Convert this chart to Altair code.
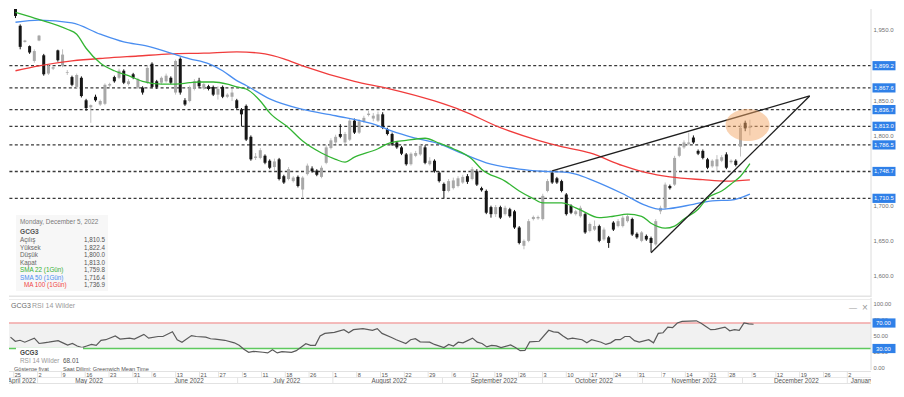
import altair as alt
import pandas as pd

FONT = "Liberation Sans"

# ---------------- data ----------------
opens = [1980, 1956, 1933, 1927, 1906, 1935, 1914, 1888, 1895, 1921,
         1899, 1889, 1883, 1869, 1882, 1850, 1840, 1855, 1844, 1845,
         1871, 1883, 1882, 1892, 1873, 1887, 1868, 1868, 1875, 1902,
         1877, 1875, 1877, 1882, 1861, 1909, 1850, 1849, 1866, 1878,
         1867, 1870, 1869, 1858, 1869, 1855, 1855, 1850, 1837, 1842,
         1798, 1768, 1768, 1771, 1764, 1755, 1766, 1742, 1738, 1735,
         1741, 1723, 1745, 1753, 1750, 1741, 1761, 1782, 1790, 1802,
         1790, 1794, 1821, 1804, 1820, 1829, 1824, 1821, 1830, 1809,
         1802, 1790, 1783, 1773, 1759, 1771, 1773, 1783, 1759, 1764,
         1747, 1731, 1721, 1725, 1728, 1733, 1742, 1738, 1749, 1725,
         1721, 1698, 1688, 1698, 1688, 1695, 1692, 1669, 1643, 1650,
         1681, 1682, 1681, 1721, 1747, 1739, 1735, 1716, 1700, 1688,
         1685, 1688, 1664, 1666, 1671, 1652, 1655, 1676, 1671, 1671,
         1678, 1681, 1660, 1650, 1657, 1654, 1645, 1692, 1697, 1728,
         1730, 1771, 1783, 1788, 1797, 1778, 1778, 1766, 1756, 1756,
         1764, 1773, 1762, 1764, 1784, 1818, 1810.5]
highs = [1983, 1958, 1936, 1928, 1922.5, 1943, 1916, 1901, 1899, 1922,
         1922.5, 1893, 1885, 1888, 1884, 1852, 1844, 1858, 1851, 1874,
         1875, 1885, 1895, 1894, 1880, 1889, 1882, 1870, 1900, 1904,
         1879, 1884, 1888, 1884, 1908, 1911, 1853, 1871, 1880, 1882,
         1875, 1872, 1871, 1870, 1871, 1860, 1866, 1852, 1839, 1844,
         1800, 1775, 1782, 1773, 1766, 1767, 1768, 1744, 1755, 1742,
         1743, 1742, 1760, 1756, 1752, 1757, 1786, 1796, 1801, 1816,
         1805, 1824, 1824, 1823, 1828, 1835, 1832, 1834, 1833, 1811,
         1804, 1792, 1785, 1775, 1776, 1778, 1788, 1786, 1769, 1766,
         1749, 1733, 1738, 1740, 1742, 1744, 1745, 1755, 1752, 1727,
         1723, 1700, 1701, 1700, 1700, 1697, 1694, 1671, 1652, 1681,
         1686, 1686, 1717, 1738, 1749, 1741, 1737, 1718, 1702, 1694,
         1700, 1690, 1676, 1679, 1673, 1669, 1657, 1678, 1681, 1686,
         1688, 1683, 1662, 1664, 1659, 1656, 1681, 1700, 1733, 1730,
         1771, 1786, 1793, 1804, 1800, 1780, 1780, 1768, 1766, 1772,
         1772, 1776, 1766, 1766, 1817, 1821, 1822.4]
lows = [1967, 1922.5, 1932, 1916, 1903.5, 1934, 1885, 1886, 1893, 1905,
        1897, 1886, 1870, 1867, 1854, 1835, 1818, 1848, 1842, 1843,
        1869, 1875, 1880, 1873, 1871, 1880, 1866, 1858, 1873, 1867,
        1866, 1873, 1875, 1873, 1858, 1858, 1842, 1847, 1864, 1868,
        1865, 1864, 1856, 1851, 1853, 1853, 1849, 1837, 1813, 1792,
        1764, 1765, 1766, 1759, 1752, 1749, 1736, 1731, 1736, 1733,
        1726, 1711, 1743, 1747, 1742, 1739, 1759, 1780, 1788, 1796,
        1787, 1792, 1802, 1802, 1818, 1827, 1820, 1819, 1809, 1800,
        1785, 1781, 1772, 1757, 1757, 1769, 1771, 1759, 1757, 1747,
        1733, 1711, 1719, 1723, 1726, 1731, 1731, 1736, 1728, 1720,
        1688, 1683, 1684, 1681, 1686, 1683, 1667, 1645, 1638, 1648,
        1679, 1680, 1679, 1719, 1731, 1731, 1719, 1686, 1688, 1686,
        1683, 1660, 1662, 1664, 1648, 1650, 1640, 1664, 1669, 1669,
        1676, 1657, 1653, 1648, 1650, 1634, 1643, 1688, 1695, 1723,
        1728, 1769, 1781, 1786, 1788, 1772, 1766, 1752, 1754, 1749,
        1762, 1752, 1760, 1756, 1770, 1806, 1800.0]
closes = [1970, 1926, 1935, 1918, 1920, 1942, 1887, 1899, 1897, 1907,
          1915, 1890, 1872, 1886, 1856, 1839, 1843, 1850, 1849, 1872,
          1873, 1877, 1892, 1875, 1877, 1882, 1880, 1861, 1896, 1869,
          1869, 1882, 1885, 1875, 1906, 1861, 1844, 1868, 1877, 1870,
          1873, 1866, 1858, 1866, 1855, 1858, 1861, 1839, 1830, 1794,
          1766, 1770, 1779, 1761, 1754, 1763, 1738, 1733, 1752, 1740,
          1728, 1740, 1757, 1749, 1744, 1754, 1783, 1793, 1798, 1798,
          1802, 1821, 1804, 1820, 1825, 1831, 1828, 1830, 1811, 1802,
          1787, 1783, 1774, 1759, 1774, 1775, 1785, 1761, 1764, 1749,
          1735, 1721, 1735, 1736, 1739, 1741, 1734, 1752, 1730, 1722,
          1690, 1688, 1698, 1683, 1697, 1685, 1669, 1647, 1650, 1678,
          1684, 1684, 1714, 1735, 1733, 1733, 1721, 1688, 1690, 1692,
          1697, 1662, 1674, 1671, 1650, 1666, 1647, 1666, 1678, 1683,
          1685, 1659, 1655, 1662, 1652, 1647, 1678, 1697, 1730, 1725,
          1768, 1783, 1790, 1790, 1790, 1774, 1768, 1754, 1764, 1766,
          1769, 1754, 1764, 1758, 1811, 1810, 1813.0]

sma22_i = [0, 4, 11, 13, 15, 18, 21, 24, 27, 31, 34, 37, 39, 42, 45, 47, 49, 52, 54, 58,
           61, 65, 68, 70, 72, 77, 79, 83, 87, 90, 93, 97, 99, 104, 107, 110, 112, 116, 119, 120,
           124, 127, 130, 133, 135, 138, 140, 142, 145, 147, 150, 152, 154, 156]
sma22_v = [1975, 1967, 1951, 1944, 1924, 1903, 1892, 1885, 1877, 1873, 1873, 1875, 1876, 1876, 1873, 1869, 1866, 1849, 1832, 1811,
           1792, 1775, 1766, 1762, 1769, 1781, 1788, 1793, 1796, 1789, 1781, 1766, 1752, 1735, 1721, 1710, 1704, 1704, 1697, 1694,
           1683, 1685, 1688, 1685, 1675, 1668, 1671, 1681, 1695, 1711, 1721, 1731, 1742, 1759.8]
sma50_i = [0, 5, 12, 18, 23, 28, 33, 37, 41, 44, 47, 49, 54, 61, 68, 77, 80, 85, 90, 95,
           100, 107, 112, 116, 119, 123, 129, 134, 137, 139, 144, 148, 152, 156]
sma50_v = [1961, 1964, 1960, 1944, 1933, 1927, 1917, 1909, 1902, 1892, 1878, 1871, 1852, 1837, 1828, 1814, 1806, 1796, 1788, 1774,
           1761, 1752, 1749, 1748, 1745, 1735, 1717, 1700, 1695, 1696, 1702, 1707, 1708, 1716.4]
ma100_i = [0, 5, 12, 19, 26, 33, 40, 47, 53, 57, 61, 72, 79, 89, 95, 103, 111, 116, 122, 129,
           134, 139, 146, 151, 156]
ma100_v = [1892, 1899, 1906, 1910, 1913, 1916, 1917, 1919, 1916, 1909, 1899, 1877, 1867, 1849, 1835, 1811, 1793, 1784, 1775, 1757,
           1747, 1741, 1737, 1735, 1736.9]

rsi_i = [0, 1, 2, 3, 5, 6, 7, 8, 10, 11, 12, 13, 14, 15, 16, 17, 18, 19, 20, 22,
         23, 25, 26, 28, 29, 31, 32, 34, 35, 36, 38, 39, 41, 42, 43, 45, 47, 48, 49, 50,
         51, 53, 54, 55, 56, 57, 59, 60, 62, 63, 64, 65, 66, 68, 70, 71, 72, 74, 76, 77,
         78, 80, 81, 83, 84, 85, 86, 88, 89, 91, 92, 93, 94, 95, 97, 98, 99, 100, 101, 102,
         103, 105, 106, 107, 108, 109, 111, 113, 114, 115, 116, 117, 118, 120, 121, 122, 124, 125, 126, 127,
         128, 129, 130, 131, 132, 134, 135, 136, 137, 138, 139, 140, 141, 144, 145, 146, 147, 148, 150, 151,
         152, 153, 154, 155, 156]
rsi_v = [47.8, 41.4, 42.9, 39.9, 46.3, 37.9, 38.9, 39.9, 42.3, 38.9, 35.5, 37.9, 34, 31.5, 34, 36.4, 35, 42.9, 43.8, 49.7,
         44.8, 46.3, 44.8, 52.2, 46.3, 48.8, 48.8, 56.2, 43.8, 39.9, 50.3, 48.8, 47.8, 45.3, 44.8, 42.9, 38.9, 35, 29, 24.1,
         25.6, 24.1, 23.1, 28.1, 23.1, 25.1, 24.1, 26.6, 37.4, 35, 35, 49.7, 53.7, 55.2, 59.6, 54.7, 59.6, 61.1, 58.6, 61.1,
         53.7, 47.3, 43.8, 37.9, 43.8, 45.3, 40.4, 39.9, 36.4, 31.5, 36.4, 34, 39.9, 38.9, 46.3, 39.9, 37.9, 32.5, 35, 34,
         31.5, 35.5, 31.5, 26.6, 27, 40.4, 41.4, 58.6, 56.2, 55.2, 49.7, 44.8, 46.3, 43.8, 38.9, 43.8, 39.9, 36.4, 38.9, 43.8,
         43.8, 48.8, 48.8, 42.3, 39.9, 43.8, 38.9, 53.7, 54.7, 63.6, 62.6, 70, 72.5, 73.4, 69.5, 64.5, 59.6, 60.1, 63.6, 57.7,
         59.6, 58.6, 70, 68.5, 68.01]

levels = [1899.2, 1867.6, 1836.7, 1813.0, 1786.5, 1748.7, 1710.5]
price_ticks = [1600, 1650, 1700, 1800, 1850, 1950]
rsi_ticks = [0, 25, 50, 75, 100]
rsi_levels = [70, 30]
rsi_level_colors = ["#f2a5a5", "#5ec95e"]

trend_seg = ["upper", "upper", "lower", "lower"]
trend_i = [114, 168.7, 135, 168.7]
trend_p = [1749.4, 1856.1, 1633.0, 1856.1]

highlight_i = [155.5]
highlight_p = [1814.8]

day_labels = ["25", "2", "9", "16", "23", "31", "6", "13", "21", "27", "5", "11", "18", "26", "1", "8", "15", "22", "29",
              "6", "12", "19", "26", "3", "10", "17", "24", "31", "7", "14", "21", "28", "5", "12", "19", "26", "2"]
day_i = [1, 6, 11, 16, 21, 26, 30, 35, 40, 44, 49, 53, 58, 63, 68, 73, 78, 83, 88,
         93, 97, 102, 107, 112, 117, 122, 127, 132, 137, 142, 147, 151, 156, 161, 166, 171, 176]
month_names = ["April 2022", "May 2022", "June 2022", "July 2022", "August 2022", "September 2022",
               "October 2022", "November 2022", "December 2022", "January 2023"]
month_start = [6, 27, 48, 68, 91, 112, 133, 154, 176]

legend_labels = ["Açılış", "Yüksek", "Düşük", "Kapat", "SMA 22 (1Gün)", "SMA 50 (1Gün)", "MA 100 (1Gün)"]
legend_values = [opens[-1], highs[-1], lows[-1], closes[-1], sma22_v[-1], sma50_v[-1], ma100_v[-1]]
legend_colors = ["#666666", "#666666", "#666666", "#666666", "#36b036", "#4a8ef0", "#f04545"]

# ---------------- layout constants ----------------
W = 862
XDOM = [-0.315, 180.66]
PH = 288
PDOM = [1570.12, 1979.86]
RH = 72
RDOM = [-3.7, 109.2]
AH = 13

GREEN = "#33b533"
BLUE = "#4a8ef0"
RED = "#f03c3c"
LBLUE = "#2f80e8"

one = pd.DataFrame({"k": [0]})
XS = alt.Scale(domain=XDOM, nice=False, zero=False)
X = alt.X("i:Q", scale=XS, axis=None)
PS = alt.Scale(domain=PDOM, nice=False, zero=False)
PAX = alt.Axis(orient="right", values=price_ticks, format=",.1f", labelFontSize=6, labelColor="#707070",
               labelFont=FONT, ticks=False, domain=False, grid=False, labelPadding=2, labelOverlap=False,
               title=None, zindex=0)
RS = alt.Scale(domain=RDOM, nice=False, zero=False)
RAX = alt.Axis(orient="right", values=rsi_ticks, format=".2f", labelFontSize=5.8, labelColor="#707070",
               labelFont=FONT, ticks=False, domain=False, grid=False, labelPadding=2, labelOverlap=False,
               title=None, zindex=0)

RECT = "M-1,-0.4 L1,-0.4 L1,0.4 L-1,0.4 Z"
ELL = ("M-1,0 C-1,-0.4015 -0.5523,-0.727 0,-0.727 C0.5523,-0.727 1,-0.4015 1,0 "
       "C1,0.4015 0.5523,0.727 0,0.727 C-0.5523,0.727 -1,0.4015 -1,0 Z")


def txt(s, x, y, color="#555555", size=6.4, align="left", weight="normal"):
    return alt.Chart(one).mark_text(text=s, align=align, baseline="middle", fontSize=size, color=color,
                                    font=FONT, fontWeight=weight).encode(x=alt.value(x), y=alt.value(y))


# ---------------- price panel ----------------
cdf = pd.DataFrame({"i": list(range(len(opens))), "o": opens, "h": highs, "l": lows, "c": closes})
cdf["body"] = ["#a8a8a8" if c >= o else "#161616" for o, c in zip(opens, closes)]
cdf["wick"] = ["#c0c0c0" if c >= o else "#161616" for o, c in zip(opens, closes)]

lv_df = pd.DataFrame({"p": levels})
lines_layer = alt.Chart(lv_df).mark_rule(color="#3a3a3a", strokeWidth=1.3, strokeDash=[3, 2.4]).encode(
    y=alt.Y("p:Q", scale=PS, axis=PAX))
wick = alt.Chart(cdf).mark_rule(strokeWidth=1, clip=True).encode(
    x=X, y=alt.Y("l:Q", scale=PS, axis=PAX), y2="h:Q", color=alt.Color("wick:N", scale=None))
body = alt.Chart(cdf).mark_bar(size=3, clip=True).encode(
    x=X, y=alt.Y("o:Q", scale=PS, axis=PAX), y2="c:Q", color=alt.Color("body:N", scale=None))


def ma(iv, vv, col):
    return alt.Chart(pd.DataFrame({"i": iv, "v": vv})).mark_line(
        color=col, strokeWidth=1.3, clip=True, interpolate="monotone").encode(
        x=X, y=alt.Y("v:Q", scale=PS, axis=PAX))


tdf = pd.DataFrame({"seg": trend_seg, "i": trend_i, "p": trend_p})
trend = alt.Chart(tdf).mark_line(color="#1e1e1e", strokeWidth=1.3).encode(
    x=X, y=alt.Y("p:Q", scale=PS, axis=PAX), detail="seg:N")

hdf = pd.DataFrame({"i": highlight_i, "p": highlight_p})
ellipse = alt.Chart(hdf).mark_point(shape=ELL, size=1936, filled=True, color="#f4a868", opacity=0.5,
                                    strokeWidth=0).encode(x=X, y=alt.Y("p:Q", scale=PS, axis=PAX))

lv_box = alt.Chart(lv_df).mark_point(shape=RECT, size=529, filled=True, color=LBLUE, opacity=1,
                                     strokeWidth=0).encode(x=alt.value(875), y=alt.Y("p:Q", scale=PS, axis=PAX))
lv_txt = alt.Chart(lv_df).mark_text(align="left", baseline="middle", fontSize=5.9, color="white",
                                    font=FONT).encode(
    x=alt.value(865), y=alt.Y("p:Q", scale=PS, axis=PAX), text=alt.Text("p:Q", format=",.1f"))

edge = alt.Chart(one).mark_rule(color="#dcdcdc").encode(x=alt.value(W))
sep = alt.Chart(one).mark_rule(color="#e4e4e4", strokeWidth=1.5).encode(y=alt.value(PH - 0.75))

legend_layers = [alt.Chart(one).mark_rect(color="#f7f7f7").encode(
    x=alt.value(7), x2=alt.value(99), y=alt.value(206), y2=alt.value(282))]
legend_layers.append(txt("Monday, December 5, 2022", 11, 213, "#7a7a7a", 6.4))
legend_layers.append(txt("GCG3", 11, 222.5, "#555555", 6.6, weight="bold"))
for k, (lab, val, col) in enumerate(zip(legend_labels, legend_values, legend_colors)):
    yy = 231.3 + 7.5 * k
    legend_layers.append(txt(lab, 15 if k == 6 else 11, yy, col, 6.3))
    legend_layers.append(txt(f"{val:,.1f}", 96, yy, "#555555", 6.3, align="right"))

price = alt.layer(lines_layer, wick, body, ma(ma100_i, ma100_v, RED), ma(sma50_i, sma50_v, BLUE),
                  ma(sma22_i, sma22_v, GREEN), trend, ellipse, lv_box, lv_txt, edge, sep,
                  *legend_layers).properties(width=W, height=PH)

# ---------------- RSI panel ----------------
band = alt.Chart(pd.DataFrame({"lo": [30], "hi": [70]})).mark_rect(color="#f1f1f1").encode(
    x=alt.value(0), x2=alt.value(W), y=alt.Y("lo:Q", scale=RS, axis=RAX), y2="hi:Q")
rl_df = pd.DataFrame({"v": rsi_levels, "col": rsi_level_colors})
rlines = alt.Chart(rl_df).mark_rule(strokeWidth=1.6).encode(
    y=alt.Y("v:Q", scale=RS, axis=RAX), color=alt.Color("col:N", scale=None))
rline = alt.Chart(pd.DataFrame({"i": rsi_i, "v": rsi_v})).mark_line(color="#5a5a5a", strokeWidth=1.2).encode(
    x=X, y=alt.Y("v:Q", scale=RS, axis=RAX))
rbox = alt.Chart(rl_df).mark_point(shape=RECT, size=529, filled=True, color=LBLUE, opacity=1,
                                   strokeWidth=0).encode(x=alt.value(875), y=alt.Y("v:Q", scale=RS, axis=RAX))
rtxt = alt.Chart(rl_df).mark_text(align="left", baseline="middle", fontSize=5.9, color="white",
                                  font=FONT).encode(
    x=alt.value(867), y=alt.Y("v:Q", scale=RS, axis=RAX), text=alt.Text("v:Q", format=".2f"))
redge = alt.Chart(one).mark_rule(color="#dcdcdc").encode(x=alt.value(W))
rtop = alt.Chart(one).mark_rule(color="#ececec", strokeWidth=1).encode(y=alt.value(1.5))
tip_box = alt.Chart(one).mark_rect(color="white").encode(
    x=alt.value(7), x2=alt.value(74), y=alt.value(49.5), y2=alt.value(67))

rsi = alt.layer(
    band, rlines, rline, tip_box, rbox, rtxt, redge, rtop,
    txt("GCG3", 2, 8, "#6a6a6a", 7),
    txt("RSI 14 Wilder", 23, 8, "#9a9a9a", 7),
    txt("—", 840, 10, "#9a9a9a", 8),
    txt("×", 853, 10, "#9a9a9a", 10),
    txt("GCG3", 11, 54.5, "#444444", 6.4, weight="bold"),
    txt("RSI 14 Wilder", 11, 62.5, "#9a9a9a", 6.4),
    txt(f"{rsi_v[-1]:.2f}", 54, 62.5, "#555555", 6.4),
    txt("Gösterge fiyat", 5, 70.5, "#555555", 5.6),
    txt("Saat Dilimi: Greenwich Mean Time", 54, 70.5, "#555555", 5.6),
).properties(width=W, height=RH)

# ---------------- date axis panel ----------------
dday = pd.DataFrame({"i": day_i, "t": day_labels})
mid = [(a + b) / 2 for a, b in zip(month_start[:-1], month_start[1:])]
mdf = pd.DataFrame({"i": mid, "t": month_names[1:-1]})
msep = pd.DataFrame({"i": month_start})

axis_layers = [
    alt.Chart(one).mark_rule(color="#e2e2e2").encode(y=alt.value(0.5)),
    alt.Chart(one).mark_rule(color="#e8e8e8").encode(y=alt.value(6.5)),
    alt.Chart(one).mark_rule(color="#e2e2e2").encode(y=alt.value(12.5)),
    alt.Chart(dday).mark_rule(color="#e4e4e4", xOffset=-1.5).encode(x=X, y=alt.value(0.5), y2=alt.value(6.5)),
    alt.Chart(msep).mark_rule(color="#e4e4e4", xOffset=-1.5).encode(x=X, y=alt.value(6.5), y2=alt.value(12.5)),
    alt.Chart(dday).mark_text(align="left", baseline="middle", fontSize=5.6, color="#555555", font=FONT,
                              dx=-0.5, clip=True).encode(x=X, y=alt.value(3.6), text="t:N"),
    alt.Chart(mdf).mark_text(align="center", baseline="middle", fontSize=6.3, color="#555555", font=FONT,
                             clip=True).encode(x=X, y=alt.value(9.7), text="t:N"),
    alt.Chart(pd.DataFrame({"i": [month_start[0]], "t": [month_names[0]]})).mark_text(
        align="right", baseline="middle", fontSize=6.3, color="#555555", font=FONT, dx=-3, clip=True).encode(
        x=X, y=alt.value(9.7), text="t:N"),
    alt.Chart(pd.DataFrame({"i": [month_start[-1]], "t": [month_names[-1]]})).mark_text(
        align="left", baseline="middle", fontSize=6.3, color="#555555", font=FONT, dx=2, clip=True).encode(
        x=X, y=alt.value(9.7), text="t:N"),
]
axisp = alt.layer(*axis_layers).properties(width=W, height=AH)

chart = alt.vconcat(price, rsi, axisp, spacing=1, bounds="flush").properties(
    padding=0, background="white").configure(font=FONT).configure_view(strokeWidth=0)

chart.save("out.html", embed_options={"renderer": "svg", "actions": False})
